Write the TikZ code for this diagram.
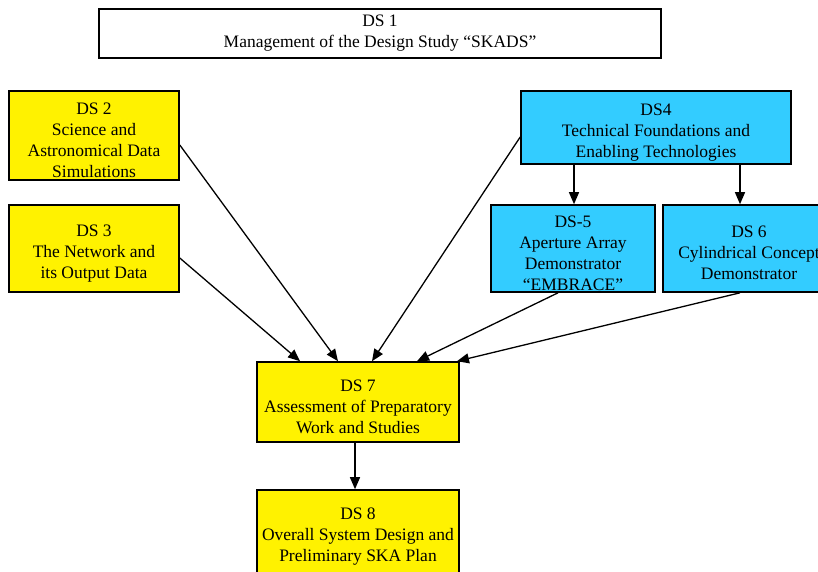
\documentclass[tikz,border=0pt]{standalone}
\usepackage{fontspec}
\setmainfont{Liberation Serif}
\usetikzlibrary{arrows.meta}
\definecolor{dscyan}{HTML}{33CCFF}
\newcommand{\dshead}[1]{\rule{0pt}{21pt}#1}
\tikzset{
  dsbox/.style={draw, line width=1.6pt, align=center, inner sep=0pt,
    font=\fontsize{17.5}{21}\selectfont},
  ylbox/.style={dsbox, fill=yellow},
  cybox/.style={dsbox, fill=dscyan},
  link/.style={line width=1.3pt, -{Triangle[length=12pt,width=10pt]}}
}
\begin{document}
\begin{tikzpicture}[x=1pt, y=-1pt]
    \clip (0,0) rectangle (818,571);
    % 管理
    \node[dsbox, minimum width=562, minimum height=49] (ds1) at (380,33.5)
      {DS 1\\Management of the Design Study “SKADS”};
    % 左側
    \node[ylbox, minimum width=170, minimum height=89] (ds2) at (94,135.5)
      {\dshead{DS 2}\\Science and\\Astronomical Data\\Simulations};
    \node[ylbox, minimum width=170, minimum height=87] (ds3) at (94,248.5)
      {\dshead{DS 3}\\The Network and\\its Output Data};
    % 右側
    \node[cybox, minimum width=270, minimum height=73] (ds4) at (656,127.5)
      {\dshead{DS4}\\Technical Foundations and\\Enabling Technologies};
    \node[cybox, minimum width=164, minimum height=87] (ds5) at (573,248.5)
      {\dshead{DS-5}\\Aperture Array\\Demonstrator\\“EMBRACE”};
    \node[cybox, minimum width=172, minimum height=87] (ds6) at (749,248.5)
      {\dshead{DS 6}\\Cylindrical Concept\\Demonstrator};
    % 下
    \node[ylbox, minimum width=202, minimum height=80] (ds7) at (358,402)
      {\dshead{DS 7}\\Assessment of Preparatory\\Work and Studies};
    \node[ylbox, minimum width=202, minimum height=83] (ds8) at (358,531.5)
      {\dshead{DS 8}\\Overall System Design and\\Preliminary SKA Plan};
    % 矢印
    \draw[link] (ds2.east |- 0,145) -- (ds7.north -| 338,0);
    \draw[link] (ds3.east |- 0,258) -- (ds7.north -| 300,0);
    \draw[link] (ds4.west |- 0,137) -- (ds7.north -| 372,0);
    \draw[link] (ds5.south -| 558,0) -- (ds7.north -| 417,0);
    \draw[link] (ds6.south -| 740,0) -- (ds7.north -| 457,0);
    \draw[link] (ds4.south -| 574,0) -- (ds5.north -| 574,0);
    \draw[link] (ds4.south -| 740,0) -- (ds6.north -| 740,0);
    \draw[link] (ds7.south -| 355,0) -- (ds8.north -| 355,0);
  \end{tikzpicture}
\end{document}
